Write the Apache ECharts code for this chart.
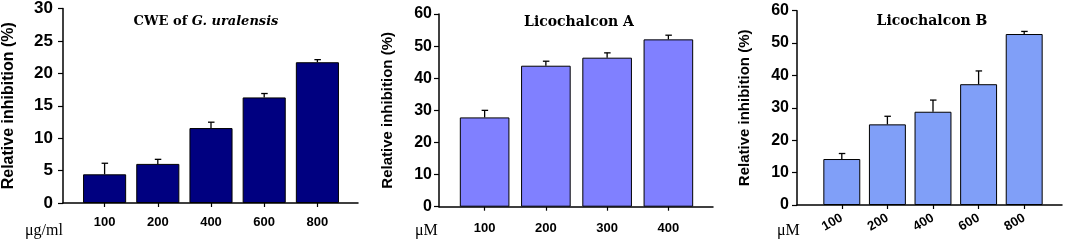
<!DOCTYPE html>
<html>
<head>
<meta charset="utf-8">
<script src="https://cdn.jsdelivr.net/npm/echarts@6/dist/echarts.min.js"></script>
<style>html,body{margin:0;padding:0;background:#fff}#c{width:1072px;height:241px}</style>
</head>
<body>
<div id="c"></div>
<script>
// ---- data ----
const cweCats = ['100', '200', '400', '600', '800'];
const cweMean = [4.4, 6.0, 11.5, 16.2, 21.6];
const cweErr  = [1.7, 0.7, 0.9, 0.6, 0.4];

const licoACats = ['100', '200', '300', '400'];
const licoAMean = [27.8, 43.9, 46.4, 52.1];
const licoAErr  = [2.2, 1.4, 1.5, 1.3];

const licoBCats = ['100', '200', '400', '600', '800'];
const licoBMean = [14.2, 24.9, 28.8, 37.3, 52.8];
const licoBErr  = [1.7, 2.5, 3.6, 4.1, 0.8];

const yName = 'Relative inhibition (%)';
const units = ['μg/ml', 'μM', 'μM'];

// ---- layout ----
const panels = [
  {cats: cweCats, mean: cweMean, err: cweErr, color: '#000080', max: 30, interval: 5,
   frame: {left: 63, top: 7.5, width: 295, height: 195.5}, barsLeft: 78, barsWidth: 266,
   yFont: 17, nameFont: 16, nameGap: 46, yMargin: 10, xFont: 13, xMargin: 13, rotate: 0},
  {cats: licoACats, mean: licoAMean, err: licoAErr, color: '#8080ff', max: 60, interval: 10,
   frame: {left: 439, top: 14, width: 274, height: 192.7}, barsLeft: 454, barsWidth: 245,
   yFont: 16, nameFont: 15, nameGap: 44, yMargin: 7, xFont: 13, xMargin: 15, rotate: 0},
  {cats: licoBCats, mean: licoBMean, err: licoBErr, color: '#809ff8', max: 60, interval: 10,
   frame: {left: 797, top: 10.7, width: 265, height: 194.3}, barsLeft: 819, barsWidth: 228,
   yFont: 16, nameFont: 15, nameGap: 45, yMargin: 8, xFont: 13, xMargin: 12, rotate: 30}
];

const grids = [], xAxes = [], yAxes = [], series = [];
panels.forEach((p, k) => {
  const fi = grids.length;
  grids.push({left: p.frame.left, top: p.frame.top, width: p.frame.width, height: p.frame.height});
  grids.push({left: p.barsLeft, top: p.frame.top, width: p.barsWidth, height: p.frame.height});
  const bi = fi + 1;
  xAxes.push({gridIndex: fi, type: 'value', min: 0, max: 1,
    axisLine: {show: true, onZero: false, lineStyle: {color: '#000', width: 1.5}},
    axisTick: {show: false}, axisLabel: {show: false}, splitLine: {show: false}});
  xAxes.push({gridIndex: bi, type: 'category', data: p.cats,
    axisLine: {show: false},
    axisTick: {show: true, alignWithLabel: true, length: 4, lineStyle: {color: '#000', width: 1.2}},
    axisLabel: {color: '#000', fontFamily: 'Liberation Sans, Arial, sans-serif', fontWeight: 'bold',
      fontSize: p.xFont, margin: p.xMargin, rotate: p.rotate, interval: 0}});
  yAxes.push({gridIndex: fi, type: 'value', min: 0, max: p.max, interval: p.interval,
    name: yName, nameLocation: 'middle', nameGap: p.nameGap, nameRotate: 90,
    nameTextStyle: {color: '#000', fontFamily: 'Liberation Sans, Arial, sans-serif', fontWeight: 'bold', fontSize: p.nameFont},
    axisLine: {show: true, lineStyle: {color: '#000', width: 1.5}},
    axisTick: {show: true, length: 5, lineStyle: {color: '#000', width: 1.2}},
    axisLabel: {color: '#000', fontFamily: 'Liberation Sans, Arial, sans-serif', fontWeight: 'bold',
      fontSize: p.yFont, margin: p.yMargin},
    splitLine: {show: false}});
  yAxes.push({gridIndex: bi, type: 'value', min: 0, max: p.max, show: false, splitLine: {show: false}});
  series.push({type: 'bar', xAxisIndex: 2 * k + 1, yAxisIndex: 2 * k + 1, data: p.mean,
    barWidth: '81%', itemStyle: {color: p.color, borderColor: '#000', borderWidth: 1}, z: 2});
  series.push({type: 'custom', xAxisIndex: 2 * k + 1, yAxisIndex: 2 * k + 1, z: 3,
    data: p.mean.map((v, i) => [i, v, p.err[i]]),
    renderItem: function (params, api) {
      const a = api.coord([api.value(0), api.value(1)]);
      const b = api.coord([api.value(0), api.value(1) + api.value(2)]);
      const st = {stroke: '#000', lineWidth: 1.3};
      return {type: 'group', children: [
        {type: 'line', shape: {x1: a[0], y1: a[1], x2: b[0], y2: b[1]}, style: st},
        {type: 'line', shape: {x1: b[0] - 3, y1: b[1], x2: b[0] + 3.5, y2: b[1]}, style: st}
      ]};
    }});
});

const titleFont = 'DejaVu Serif, serif';
const option = {
  animation: false,
  title: [
    {text: '{a|CWE of }{b|G. uralensis}', left: 201, top: 10, textAlign: 'center',
     textStyle: {rich: {
       a: {fontFamily: titleFont, fontWeight: 'bold', fontSize: 13, color: '#000'},
       b: {fontFamily: titleFont, fontWeight: 'bold', fontStyle: 'italic', fontSize: 13, color: '#000'}}}},
    {text: 'Licochalcon A', left: 574, top: 10, textAlign: 'center',
     textStyle: {fontFamily: titleFont, fontWeight: 'bold', fontSize: 14, color: '#000'}},
    {text: 'Licochalcon B', left: 927, top: 9, textAlign: 'center',
     textStyle: {fontFamily: titleFont, fontWeight: 'bold', fontSize: 14, color: '#000'}}
  ],
  grid: grids, xAxis: xAxes, yAxis: yAxes, series: series,
  graphic: [
    {type: 'text', left: 25, top: 223, style: {text: units[0], font: '16px Liberation Serif, serif', fill: '#000'}},
    {type: 'text', left: 415, top: 223, style: {text: units[1], font: '16px Liberation Serif, serif', fill: '#000'}},
    {type: 'text', left: 777, top: 223, style: {text: units[2], font: '16px Liberation Serif, serif', fill: '#000'}}
  ]
};
echarts.init(document.getElementById('c')).setOption(option);
</script>
</body>
</html>
